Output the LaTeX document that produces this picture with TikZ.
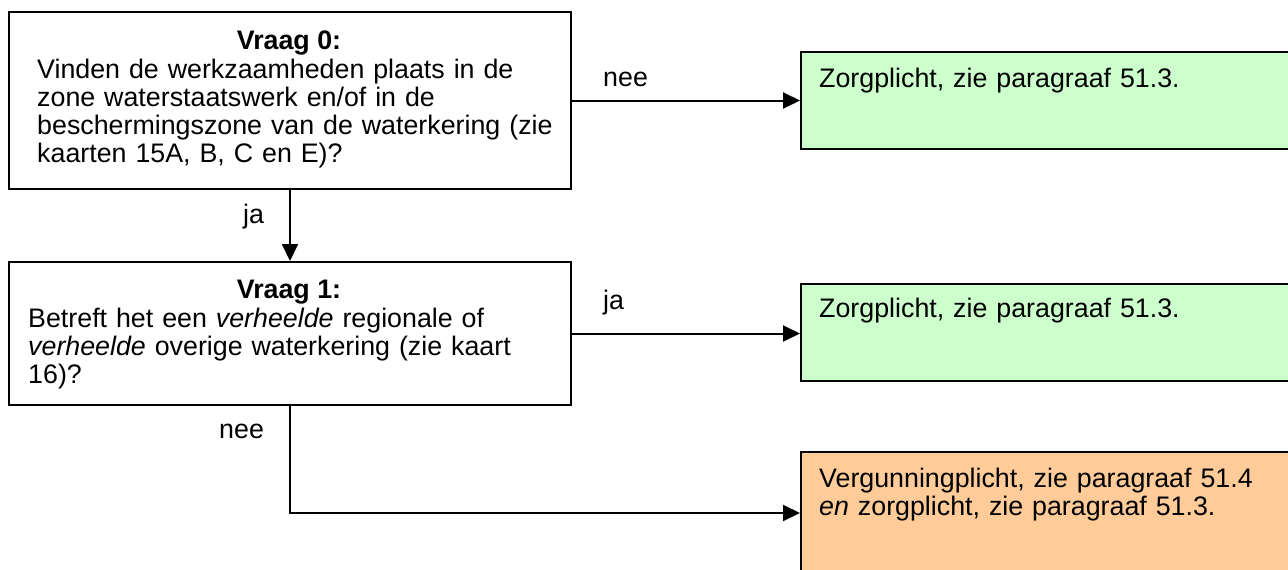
\documentclass[tikz,border=0pt]{standalone}
\usepackage{fontspec}
\setmainfont{Liberation Sans}
\usetikzlibrary{arrows.meta}
\definecolor{zgreen}{HTML}{CCFFCC}
\definecolor{zorange}{HTML}{FFCC99}
\begin{document}
\begin{tikzpicture}[x=1pt,y=-1pt,
  box/.style={draw=black, line width=2pt, rectangle, inner sep=0pt, anchor=north west},
  greenbox/.style={box, fill=zgreen},
  orangebox/.style={box, fill=zorange},
  txt/.style={inner sep=0pt, font=\fontsize{26.8}{28}\selectfont},
  para/.style={txt, anchor=base west, text width=560pt, align=left},
  lbl/.style={txt, anchor=base west},
  arr/.style={line width=2pt, -{Triangle[length=17pt,width=16pt]}}
]
\useasboundingbox (0,0) rectangle (1288,570);

% boxes
\node[box, minimum width=562pt, minimum height=177pt] (q0) at (8,11) {};
\node[box, minimum width=562pt, minimum height=143pt] (q1) at (8,261) {};
\node[greenbox, minimum width=600pt, minimum height=97pt] (z0) at (800,51) {};
\node[greenbox, minimum width=600pt, minimum height=97pt] (z1) at (800,283) {};
\node[orangebox, minimum width=600pt, minimum height=122pt] (v) at (800,451) {};

% texts in question boxes
\node[txt, anchor=base, font=\fontsize{26.8}{28}\selectfont\bfseries] (t0) at (289,49) {Vraag 0:};
\node[para] (b0) at (37,78) {Vinden de werkzaamheden plaats in de\\zone waterstaatswerk en/of in de\\beschermingszone van de waterkering (zie\\kaarten 15A, B, C en E)?};
\node[txt, anchor=base, font=\fontsize{26.8}{28}\selectfont\bfseries] (t1) at (289,298) {Vraag 1:};
\node[para] (b1) at (28,327) {Betreft het een \textit{verheelde} regionale of\\\textit{verheelde} overige waterkering (zie kaart\\16)?};

% texts in answer boxes
\node[para] (a0) at (819,87) {Zorgplicht, zie paragraaf 51.3.};
\node[para] (a1) at (819,317) {Zorgplicht, zie paragraaf 51.3.};
\node[para] (a2) at (819,487) {Vergunningplicht, zie paragraaf 51.4\\\textit{en} zorgplicht, zie paragraaf 51.3.};

% connectors
\draw[arr] (q0.east) -- (z0.west);
\draw[arr] (q0.south) -- (q1.north);
\draw[arr] (q1.east) -- (q1.east -| z1.west);
\draw[arr] (q1.south) |- (v.west);

% labels
\node[lbl] (l1) at (603,86) {nee};
\node[lbl] (l2) at (243,223) {ja};
\node[lbl] (l3) at (603,309) {ja};
\node[lbl] (l4) at (219,438) {nee};
\end{tikzpicture}
\end{document}
